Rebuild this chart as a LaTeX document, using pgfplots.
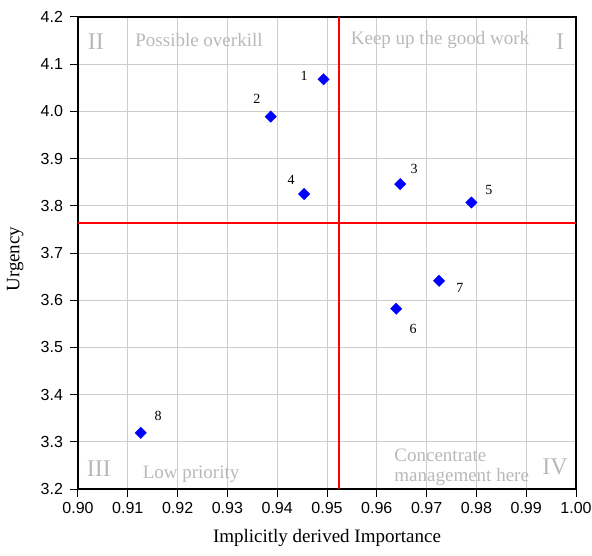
\documentclass[border=0pt]{standalone}
\usepackage{pgfplots}
\pgfplotsset{compat=1.18}
\usepackage{fontspec}
\setmainfont{Liberation Serif}
\newfontfamily\arialfont{Liberation Sans}
\definecolor{quadgray}{RGB}{185,185,185}
\definecolor{gridgray}{RGB}{205,205,205}

\begin{document}
\begin{tikzpicture}
\begin{axis}[
scale only axis,
width=498pt,
height=472pt,
xmin=0.90, xmax=1.00,
ymin=3.2, ymax=4.2,
xtick={0.90,0.91,...,1.001},
ytick={3.2,3.3,...,4.21},
xticklabel style={/pgf/number format/.cd,fixed,fixed zerofill,precision=2,/tikz/.cd,yshift=-2pt},
yticklabel style={/pgf/number format/.cd,fixed,fixed zerofill,precision=1,/tikz/.cd,xshift=-3.5pt},
/pgf/number format/assume math mode=true,
ticklabel style={font=\arialfont\fontsize{16}{16}\selectfont},
tick align=outside,
xtick pos=bottom, ytick pos=left,
major tick length=8pt,
tick style={black, line width=1pt},
axis line style={black, line width=1.3pt},
grid=major,
major grid style={gridgray, line width=0.8pt},
xlabel={Implicitly derived Importance},
ylabel={Urgency},
label style={font=\fontsize{19}{19}\selectfont},
xlabel style={at={(axis description cs:0.5,-0.104)}, anchor=center},
ylabel style={at={(axis description cs:-0.126,0.487)}, anchor=center},
clip=false,
]
% quadrant split lines
\addplot[red, line width=2pt] coordinates {(0.9525,3.2) (0.9525,4.2)};
\addplot[red, line width=2pt] coordinates {(0.90,3.764) (1.00,3.764)};

% data points
\addplot[only marks, mark=square*, mark size=4pt,
  mark options={rotate=45, fill=blue, draw=blue}]
coordinates {
(0.9493,4.068)
(0.9387,3.989)
(0.9647,3.846)
(0.9454,3.825)
(0.9790,3.807)
(0.9639,3.582)
(0.9725,3.641)
(0.9126,3.319)
};

\begin{scope}[font=\fontsize{14}{14}\selectfont]
\node at (axis cs:0.9454,4.075) {1};
\node at (axis cs:0.9359,4.026) {2};
\node at (axis cs:0.9675,3.878) {3};
\node at (axis cs:0.9428,3.855) {4};
\node at (axis cs:0.9825,3.833) {5};
\node at (axis cs:0.9673,3.539) {6};
\node at (axis cs:0.9767,3.626) {7};
\node at (axis cs:0.9161,3.355) {8};
\end{scope}

\begin{scope}[text=quadgray, font=\fontsize{19}{20}\selectfont]
\node at (axis cs:0.9243,4.151) {Possible overkill};
\node at (axis cs:0.9727,4.151) {Keep up the good work};
\node at (axis cs:0.9227,3.232) {Low priority};
\node[anchor=west, align=left, inner sep=0pt] at (axis cs:0.9635,3.247) {Concentrate\\management here};
\end{scope}
\begin{scope}[text=quadgray, font=\fontsize{24}{24}\selectfont]
\node at (axis cs:0.9036,4.147) {II};
\node at (axis cs:0.9968,4.147) {I};
\node at (axis cs:0.9042,3.244) {III};
\node at (axis cs:0.9958,3.247) {IV};
\end{scope}
\end{axis}
\pgfresetboundingbox
\path[use as bounding box] ([xshift=-78pt,yshift=-66pt]current axis.south west) rectangle ([xshift=514pt,yshift=489pt]current axis.south west);
\end{tikzpicture}
\end{document}
